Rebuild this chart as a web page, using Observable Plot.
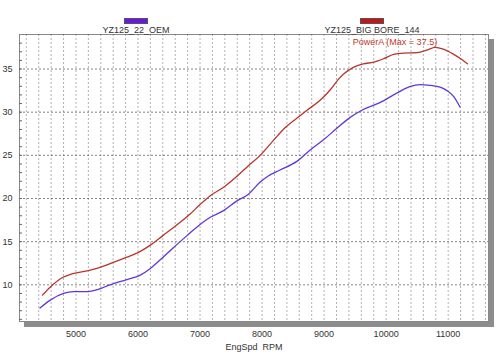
<!DOCTYPE html>
<html>
<head>
<meta charset="utf-8">
<script src="https://cdn.jsdelivr.net/npm/d3@7"></script>
<script src="https://cdn.jsdelivr.net/npm/@observablehq/plot@0.6"></script>
<style>
  html, body { margin: 0; padding: 0; background: #fff; }
  #wrap { position: relative; width: 500px; height: 352px; font-family: "Liberation Sans", Arial, sans-serif; }
  .leg { position: absolute; font-size: 9px; color: #333; text-align: center; }
  .sw { display: block; margin: 0 auto 1px auto; width: 24px; height: 6px; }
  svg text { white-space: pre; }
  svg [aria-label="frame"] { filter: drop-shadow(5px 5px 0 #8c8c8c); }
</style>
</head>
<body>
<div id="wrap"></div>
<script>
// ---- data ----
const seriesNames = ["YZ125_22_OEM", "YZ125_BIG BORE_144"];
const seriesColors = ["#6236d8", "#b8342b"];
const swatchColors = ["#6a16e6", "#c81414"];

const oemRpm = [4420,4580,4800,4960,5200,5330,5550,5820,6030,6200,6360,6570,6790,7000,7160,7380,7590,7780,7970,8100,8290,8560,8770,8990,9200,9420,9600,9900,10170,10390,10550,10710,10870,10980,11090,11190];
const oemPow = [7.3,8.2,9.0,9.2,9.22,9.4,10.0,10.6,11.1,11.9,12.9,14.3,15.7,17.0,17.8,18.6,19.7,20.5,21.9,22.6,23.3,24.3,25.6,26.8,28.1,29.4,30.2,31.1,32.2,33.0,33.2,33.1,32.9,32.5,31.8,30.6];

const bbRpm = [4460,4580,4800,4950,5200,5400,5600,5820,6030,6200,6400,6620,6840,7000,7160,7380,7600,7780,7970,8180,8370,8560,8720,8940,9100,9230,9310,9470,9630,9800,9960,10120,10280,10500,10660,10790,10920,11090,11220,11310];
const bbPow = [8.8,9.7,10.9,11.3,11.65,12.05,12.6,13.2,13.85,14.6,15.7,16.9,18.2,19.3,20.3,21.3,22.6,23.8,25.0,26.7,28.2,29.3,30.2,31.4,32.6,33.8,34.4,35.2,35.6,35.8,36.2,36.7,36.85,36.9,37.2,37.5,37.3,36.7,36.1,35.6];

const xTicks = [5000,6000,7000,8000,9000,10000,11000];
const yTicks = [10,15,20,25,30,35];
const xLabel = "EngSpd  RPM";
const annotation = "PowerA (Max = 37.5)";

// ---- build ----
const oem = oemRpm.map((r,i) => ({rpm: r, p: oemPow[i], s: seriesNames[0]}));
const bb = bbRpm.map((r,i) => ({rpm: r, p: bbPow[i], s: seriesNames[1]}));
const maxP = d3.max(bbPow);
const maxPt = [{rpm: bbRpm[bbPow.indexOf(maxP)], p: maxP}];
const xGrid = d3.range(4200, 11601, 200);
const yMinor = d3.range(6, 39, 1);

const chart = Plot.plot({
  width: 500,
  height: 352,
  marginLeft: 19,
  marginRight: 12,
  marginTop: 34,
  marginBottom: 31,
  style: {fontFamily: "'Liberation Sans', Arial, sans-serif", fontSize: "9px", color: "#333", background: "transparent"},
  x: {domain: [4090, 11650], label: null},
  y: {domain: [5.75, 39], label: null},
  marks: [
    Plot.frame({fill: "white", stroke: "#888", strokeWidth: 1}),
    Plot.gridX(xGrid, {stroke: "#555", strokeOpacity: 0.45, strokeDasharray: "2,2"}),
    Plot.gridY(yTicks, {stroke: "#444", strokeOpacity: 0.65, strokeDasharray: "2,2"}),
    Plot.axisY(yMinor, {tickSize: -3, tickFormat: () => "", stroke: "#666"}),
    Plot.axisX(xTicks, {tickSize: 0, tickPadding: 9, tickFormat: d => String(d), fill: "#333"}),
    Plot.axisY(yTicks, {tickSize: 0, tickPadding: 7, tickFormat: d => String(d), fill: "#333"}),
    Plot.axisX({ticks: [], label: xLabel, labelAnchor: "center", labelOffset: 28, labelArrow: "none"}),
    Plot.line(oem, {x: "rpm", y: "p", stroke: seriesColors[0], strokeWidth: 1.3, curve: "monotone-x"}),
    Plot.line(bb, {x: "rpm", y: "p", stroke: seriesColors[1], strokeWidth: 1.3, curve: "monotone-x"}),
    Plot.text(maxPt, {x: "rpm", y: "p", text: () => annotation, textAnchor: "end", dx: 2, dy: -5, fill: "#c0392b", fontSize: 9})
  ]
});

const wrap = document.getElementById("wrap");
wrap.appendChild(chart);

const legPos = [{left: 96, width: 80}, {left: 322, width: 100}];
seriesNames.forEach((n, i) => {
  const d = document.createElement("div");
  d.className = "leg";
  d.style.left = legPos[i].left + "px";
  d.style.width = legPos[i].width + "px";
  d.style.top = "18px";
  const sw = document.createElement("span");
  sw.className = "sw";
  sw.style.background = swatchColors[i];
  sw.style.border = "1px solid #555";
  sw.style.boxSizing = "border-box";
  d.appendChild(sw);
  d.appendChild(document.createTextNode(n));
  wrap.appendChild(d);
});
</script>
</body>
</html>
